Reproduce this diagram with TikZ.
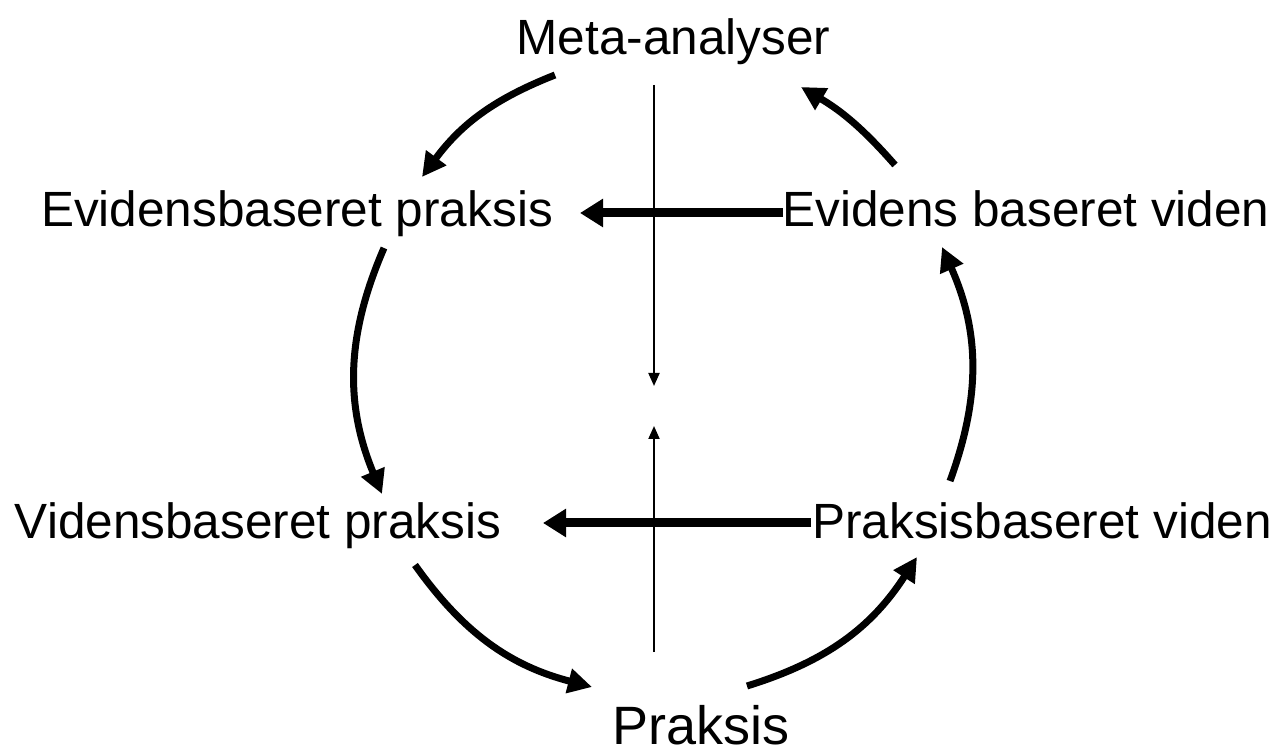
\documentclass[tikz,border=0pt]{standalone}
\usepackage{fontspec}
\setmainfont{Liberation Sans}
\usetikzlibrary{arrows.meta}
\begin{document}
\begin{tikzpicture}[x=1pt,y=1pt,
  lbl/.style={anchor=base, inner sep=0pt, font=\fontsize{49.5}{55}\selectfont},
  bigarc/.style={line width=7pt, -{Triangle[length=24pt,width=24pt]}},
  bighor/.style={line width=9pt, -{Triangle[length=23pt,width=27pt]}},
  thinarr/.style={line width=2pt, -{Triangle[length=13pt,width=11pt]}}]
\useasboundingbox[fill=white] (0,0) rectangle (1279,747);
% labels
\node[lbl] (meta) at (673.5,692) {Meta-analyser};
\node[lbl] (ebp)  at (297,520)   {Evidensbaseret praksis};
\node[lbl] (ebv)  at (1026,520)  {Evidens baseret viden};
\node[lbl] (vbp)  at (258,208)   {Vidensbaseret praksis};
\node[lbl] (pbv)  at (1042,208)  {Praksisbaseret viden};
\node[lbl, text depth=0pt, font=\fontsize{54}{58}\selectfont] (pr) at (701,3) {Praksis};
% arrow end points
\coordinate (a1s) at (555,672); \coordinate (a1e) at (422,570);
\coordinate (a2s) at (895,582); \coordinate (a2e) at (801,660);
\coordinate (a3s) at (384,499); \coordinate (a3e) at (382,253);
\coordinate (a4s) at (415,182); \coordinate (a4e) at (592,60);
\coordinate (a5s) at (747,61);  \coordinate (a5e) at (917,190);
\coordinate (a6s) at (950,266); \coordinate (a6e) at (942,500);
\coordinate (h1s) at (783,534); \coordinate (h1e) at (580,534);
\coordinate (h2s) at (811,224); \coordinate (h2e) at (543,224);
\coordinate (v1s) at (654,662); \coordinate (v1e) at (654,361);
\coordinate (v2s) at (654,95);  \coordinate (v2e) at (654,321);
% curved cycle arrows
\draw[bigarc] (a1s) to[bend right=16] (a1e);
\draw[bigarc] (a2s) to[bend right=9]  (a2e);
\draw[bigarc] (a3s) to[bend right=23] (a3e);
\draw[bigarc] (a4s) to[bend right=20] (a4e);
\draw[bigarc] (a5s) to[bend right=20] (a5e);
\draw[bigarc] (a6s) to[bend right=22] (a6e);
% horizontal arrows
\draw[bighor] (h1s) -- (h1e);
\draw[bighor] (h2s) -- (h2e);
% thin vertical arrows
\draw[thinarr] (v1s) -- (v1e);
\draw[thinarr] (v2s) -- (v2e);
\end{tikzpicture}
\end{document}
